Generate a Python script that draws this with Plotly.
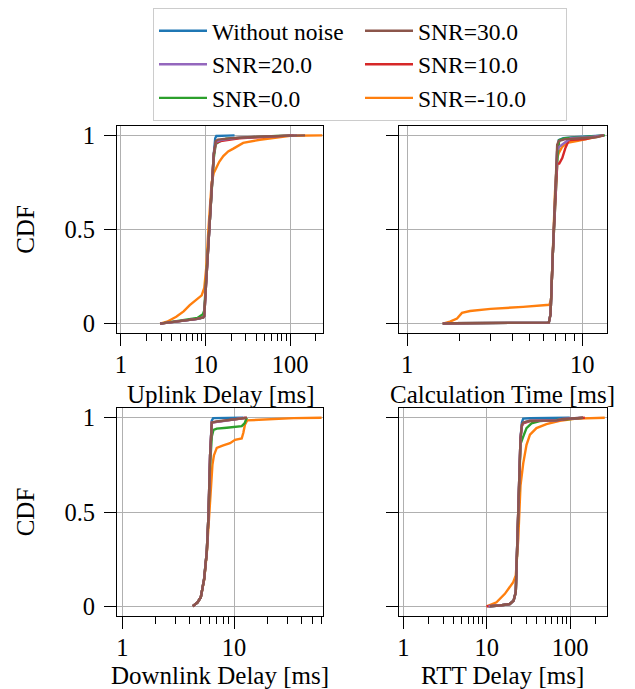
import plotly.graph_objects as go

# ---------------- data (x in ms, CDF) ----------------
SERIES = ["Without noise", "SNR=-10.0", "SNR=0.0", "SNR=10.0", "SNR=20.0", "SNR=30.0"]
COLORS = ["#1f77b4", "#ff7f0e", "#2ca02c", "#d62728", "#9467bd", "#8c564b"]
LEGEND_RANK = [1, 6, 5, 4, 3, 2]

# Uplink delay
UL_NONE = [(2.9, 0), (5, 0.012), (8, 0.025), (9.4, 0.033), (9.65, 0.04), (10.1, 0.2), (11.0, 0.5),
           (11.8, 0.73), (12.5, 0.9), (13.0, 0.985), (13.4, 0.997), (18, 0.999), (22, 1.0)]
UL_M10 = [(2.9, 0), (3.5, 0.01), (4.5, 0.036), (5.5, 0.065), (6.5, 0.098), (8, 0.13), (9.0, 0.15),
          (9.65, 0.19), (10.2, 0.3), (10.8, 0.5), (11.3, 0.63), (11.8, 0.75), (12.5, 0.8), (13.2, 0.82),
          (14.5, 0.86), (16.2, 0.89), (18.5, 0.915), (21.3, 0.93), (27.8, 0.96), (43.8, 0.977),
          (70, 0.99), (100, 0.998), (240, 1.0)]
UL_0 = [(2.9, 0), (5, 0.015), (8, 0.03), (9.3, 0.05), (9.65, 0.07), (10.1, 0.22), (11.0, 0.5),
        (11.8, 0.72), (12.5, 0.88), (13.2, 0.955), (15, 0.97), (17.5, 0.983), (25, 0.988),
        (50, 0.994), (100, 1.0)]
UL_10 = [(2.9, 0), (5, 0.012), (8, 0.025), (9.4, 0.033), (9.65, 0.04), (10.1, 0.2), (11.0, 0.5),
         (11.8, 0.73), (12.5, 0.9), (13.2, 0.96), (15, 0.97), (25, 0.985), (60, 0.995), (110, 1.0)]
UL_20 = [(2.9, 0), (5, 0.012), (8, 0.025), (9.4, 0.033), (9.65, 0.04), (10.1, 0.2), (11.0, 0.5),
         (11.8, 0.73), (12.5, 0.9), (13.2, 0.965), (15, 0.975), (25, 0.988), (60, 0.996), (120, 1.0)]
UL_30 = [(2.9, 0), (5, 0.012), (8, 0.025), (9.4, 0.033), (9.65, 0.04), (10.1, 0.2), (11.0, 0.5),
         (11.8, 0.73), (12.5, 0.9), (13.2, 0.97), (14, 0.978), (20, 0.985), (40, 0.993),
         (100, 0.999), (150, 1.0)]

# Calculation time
CT_NONE = [(1.6, 0), (1.8, 0.002), (6.45, 0.005), (6.6, 0.05), (6.8, 0.37), (6.9, 0.5), (7.05, 0.73),
           (7.2, 0.92), (7.35, 0.975), (7.8, 0.985), (9, 0.99), (11, 0.995), (13.3, 1.0)]
CT_M10 = [(1.6, 0), (1.76, 0.01), (1.93, 0.027), (2.06, 0.057), (2.29, 0.067), (3.0, 0.078),
          (4.6, 0.089), (6.5, 0.10), (6.65, 0.13), (6.85, 0.45), (7.0, 0.7), (7.2, 0.88),
          (7.35, 0.906), (7.7, 0.94), (8.2, 0.96), (9.3, 0.97), (11.1, 0.985), (13.3, 1.0)]
CT_0 = [(1.6, 0), (1.8, 0.002), (6.45, 0.005), (6.6, 0.05), (6.8, 0.37), (6.9, 0.5), (7.05, 0.73),
        (7.25, 0.90), (7.4, 0.975), (8, 0.985), (10, 0.99), (12, 0.995), (13.5, 1.0)]
CT_10 = [(1.6, 0), (1.8, 0.002), (6.45, 0.005), (6.6, 0.05), (6.8, 0.37), (6.9, 0.5), (7.05, 0.73),
         (7.2, 0.85), (7.4, 0.85), (7.7, 0.88), (8.0, 0.93), (8.4, 0.975), (10.5, 0.98),
         (11.5, 0.99), (13.3, 1.0)]
CT_20 = [(1.6, 0), (1.8, 0.002), (6.45, 0.005), (6.6, 0.05), (6.8, 0.37), (6.9, 0.5), (7.05, 0.73),
         (7.2, 0.92), (7.4, 0.94), (7.9, 0.96), (8.6, 0.985), (11, 0.99), (13.3, 1.0)]
CT_30 = [(1.6, 0), (1.8, 0.002), (6.45, 0.005), (6.6, 0.05), (6.8, 0.37), (6.9, 0.5), (7.05, 0.73),
         (7.2, 0.95), (7.35, 0.97), (8, 0.98), (10, 0.985), (12, 0.99), (13.3, 1.0)]

# Downlink delay
DL_NONE = [(4.27, 0), (4.71, 0.02), (5.04, 0.048), (5.4, 0.146), (5.7, 0.29), (5.9, 0.48),
           (6.1, 0.8), (6.32, 0.985), (6.5, 0.998), (9, 1.0), (12, 1.0)]
DL_M10 = [(4.27, 0), (4.71, 0.02), (5.04, 0.048), (5.4, 0.14), (5.7, 0.28), (5.95, 0.45),
          (6.2, 0.62), (6.4, 0.75), (6.6, 0.8), (7.0, 0.84), (8.0, 0.853), (9.2, 0.865),
          (10.2, 0.883), (11.7, 0.89), (12.1, 0.92), (12.5, 0.963), (13.1, 0.986), (17, 0.99),
          (24, 0.995), (34, 0.998), (60.6, 1.0)]
DL_0 = [(4.27, 0), (4.71, 0.02), (5.04, 0.048), (5.4, 0.146), (5.7, 0.29), (5.9, 0.48),
        (6.1, 0.75), (6.32, 0.9), (6.54, 0.935), (7, 0.942), (8.6, 0.947), (11.7, 0.955),
        (12.4, 0.97), (13.0, 1.0)]
DL_10 = [(4.27, 0), (4.71, 0.02), (5.04, 0.048), (5.4, 0.146), (5.7, 0.29), (5.9, 0.48),
         (6.1, 0.8), (6.32, 0.975), (8, 0.983), (11, 0.992), (13, 1.0)]
DL_20 = [(4.27, 0), (4.71, 0.02), (5.04, 0.048), (5.4, 0.146), (5.7, 0.29), (5.9, 0.48),
         (6.1, 0.8), (6.32, 0.975), (8, 0.982), (10, 0.99), (12.5, 1.0)]
DL_30 = [(4.27, 0), (4.71, 0.02), (5.04, 0.048), (5.4, 0.146), (5.7, 0.29), (5.9, 0.48),
         (6.1, 0.8), (6.32, 0.975), (7, 0.98), (9.86, 0.99), (12.1, 0.998), (13, 1.0)]

# RTT delay
RTT_NONE = [(10.5, 0), (14.4, 0.004), (18.9, 0.012), (21, 0.03), (22.3, 0.075), (23.4, 0.36),
            (24.3, 0.625), (25.4, 0.89), (26.4, 0.975), (27.4, 0.995), (33, 0.997), (60, 0.998),
            (99, 1.0)]
RTT_M10 = [(10, 0), (13.1, 0.021), (16.5, 0.066), (20.8, 0.128), (22.3, 0.163), (23.9, 0.36),
           (25.4, 0.64), (27.4, 0.758), (30, 0.856), (33, 0.91), (39.5, 0.945), (52, 0.966),
           (75, 0.984), (119, 0.995), (260, 1.0)]
RTT_0 = [(10.5, 0), (14.4, 0.004), (18.9, 0.012), (21, 0.03), (22.3, 0.075), (23.4, 0.36),
         (24.3, 0.6), (25.4, 0.86), (27.4, 0.9), (30, 0.945), (34.4, 0.97), (43.3, 0.982),
         (99, 0.993), (143, 1.0)]
RTT_10 = [(9.95, 0), (14.4, 0.004), (18.9, 0.012), (21, 0.03), (22.3, 0.075), (23.4, 0.36),
          (24.3, 0.625), (25.4, 0.89), (26.4, 0.955), (27.4, 0.97), (33, 0.982), (70, 0.987),
          (100, 0.995), (150, 1.0)]
RTT_20 = [(10.5, 0), (14.4, 0.004), (18.9, 0.012), (21, 0.03), (22.3, 0.075), (23.4, 0.36),
          (24.3, 0.625), (25.4, 0.89), (26.4, 0.96), (27.4, 0.974), (33, 0.984), (68.6, 0.987),
          (82, 0.993), (119, 0.998), (140, 1.0)]
RTT_30 = [(10.9, 0), (14.4, 0.004), (18.9, 0.012), (21, 0.03), (22.3, 0.075), (23.4, 0.36),
          (24.3, 0.625), (25.4, 0.89), (26.4, 0.963), (27.4, 0.975), (33, 0.984), (68.6, 0.986),
          (82, 0.993), (119, 0.998), (143, 1.0)]

PANEL_DATA = [
    [UL_NONE, UL_M10, UL_0, UL_10, UL_20, UL_30],
    [CT_NONE, CT_M10, CT_0, CT_10, CT_20, CT_30],
    [DL_NONE, DL_M10, DL_0, DL_10, DL_20, DL_30],
    [RTT_NONE, RTT_M10, RTT_0, RTT_10, RTT_20, RTT_30],
]
X_TITLES = ["Uplink Delay [ms]", "Calculation Time [ms]", "Downlink Delay [ms]", "RTT Delay [ms]"]
X_TICKS = [[1, 10, 100], [1, 10], [1, 10], [1, 10, 100]]
X_TICKTEXT = [["1", "10", "100"], ["1", "10"], ["1", "10"], ["1", "10", "100"]]
X_RANGES_LOG = [[-0.047, 2.388], [-0.044, 1.139], [-0.047, 1.795], [-0.048, 2.436]]
Y_TICKS = [0, 0.5, 1]
Y_TICKTEXT = ["0", "0.5", "1"]
MINOR_TICKS = [m * 10 ** e for e in range(0, 3) for m in range(2, 10)]

# ---------------- layout geometry ----------------
# the page body adds an 8px offset, so the figure is 8px smaller and all
# positions below (taken in window pixels) are shifted by that amount
OFF = 8
W, H = 635 - OFF, 689 - OFF
ML, MR = 100, 20
PW = W - ML - MR


def xdom(a, b):
    return [(a - OFF - ML) / PW, (b - OFF - ML) / PW]


def ypaper(py):
    return (H - (py - OFF)) / H


def ydom(top, bottom):
    return [ypaper(bottom), ypaper(top)]


X_DOMAINS = [xdom(117, 323), xdom(399.3, 606.5), xdom(117, 323), xdom(399.3, 606.5)]
Y_DOMAINS = [ydom(126, 333), ydom(126, 333), ydom(408.3, 615.7), ydom(408.3, 615.7)]
X_TITLE_Y = [394.5, 394.5, 675.5, 675.5]

FONT = "Liberation Serif"
FS = 24.5
FS_TITLE = 25
FS_LEGEND = 23.5

fig = go.Figure()
for p in range(4):
    sfx = "" if p == 0 else str(p + 1)
    for s, name in enumerate(SERIES):
        pts = PANEL_DATA[p][s]
        fig.add_trace(go.Scatter(
            x=[a for a, _ in pts], y=[b for _, b in pts], mode="lines", name=name,
            line=dict(color=COLORS[s], width=2.4), legendrank=LEGEND_RANK[s],
            showlegend=(p == 0), xaxis="x" + sfx, yaxis="y" + sfx,
        ))

layout = dict(
    width=W, height=H, margin=dict(l=ML, r=MR, t=0, b=0),
    paper_bgcolor="white", plot_bgcolor="white", template="none",
    font=dict(family=FONT, size=FS, color="black"),
    showlegend=True,
    legend=dict(
        orientation="h", x=(153 - OFF - ML) / PW, y=1.0,
        xanchor="left", yanchor="top",
        bordercolor="#cccccc", borderwidth=1, bgcolor="white",
        entrywidth=143, entrywidthmode="pixels", itemwidth=48,
        font=dict(family=FONT, size=FS_LEGEND, color="black"), tracegroupgap=0,
    ),
    annotations=[],
)
for p in range(4):
    sfx = "" if p == 0 else str(p + 1)
    layout["xaxis" + sfx] = dict(
        type="log", domain=X_DOMAINS[p], range=X_RANGES_LOG[p], anchor="y" + sfx,
        tickmode="array", tickvals=X_TICKS[p], ticktext=X_TICKTEXT[p],
        ticks="outside", ticklen=12, tickwidth=1, tickcolor="black",
        ticklabelstandoff=-2,
        showline=True, mirror=True, linecolor="black", linewidth=1,
        showgrid=True, gridcolor="#b0b0b0", gridwidth=1, zeroline=False,
        minor=dict(tickvals=MINOR_TICKS, ticks="outside", ticklen=7, tickwidth=1,
                   tickcolor="black", showgrid=False),
        automargin=False, tickfont=dict(family=FONT, size=FS),
    )
    layout["yaxis" + sfx] = dict(
        domain=Y_DOMAINS[p], range=[-0.05, 1.05], anchor="x" + sfx,
        tickmode="array", tickvals=Y_TICKS, ticktext=Y_TICKTEXT,
        ticks="outside", ticklen=12, tickwidth=1, tickcolor="black",
        ticklabelstandoff=4,
        showticklabels=(p % 2 == 0),
        showline=True, mirror=True, linecolor="black", linewidth=1,
        showgrid=True, gridcolor="#b0b0b0", gridwidth=1, zeroline=False,
        title=dict(text="CDF" if p % 2 == 0 else "", font=dict(family=FONT, size=FS_TITLE),
                   standoff=22),
        automargin=False, tickfont=dict(family=FONT, size=FS),
    )
    layout["annotations"].append(dict(
        text=X_TITLES[p], xref="paper", yref="paper",
        x=sum(X_DOMAINS[p]) / 2, y=ypaper(X_TITLE_Y[p]),
        xanchor="center", yanchor="middle", showarrow=False,
        font=dict(family=FONT, size=FS_TITLE, color="black"),
    ))
fig.update_layout(**layout)
fig.write_html("out.html")
